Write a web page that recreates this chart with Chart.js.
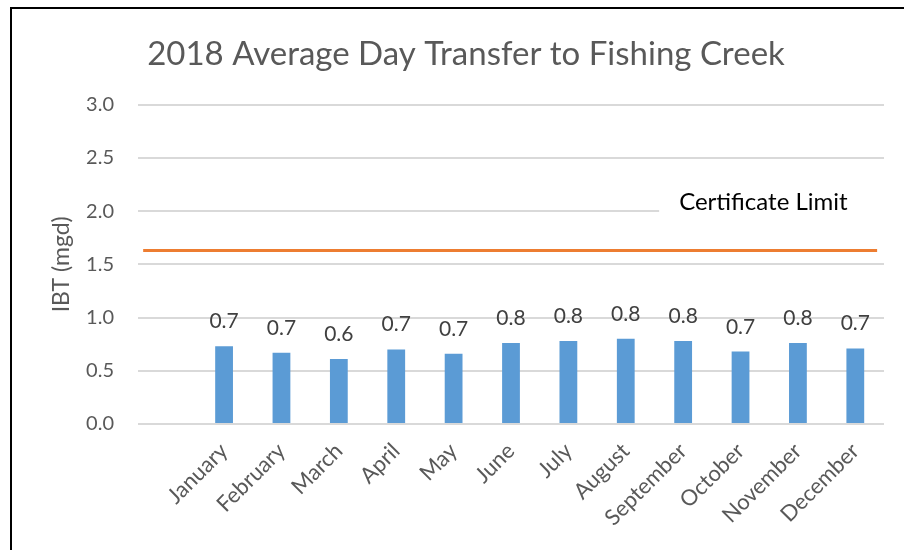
<!DOCTYPE html>
<html lang="en">
<head>
    <meta charset="UTF-8">
    <title>2018 Average Day Transfer to Fishing Creek</title>
    <style>
        body {
            margin: 0;
            background: #fff;
            overflow: hidden;
        }

        .wrap {
            position: relative;
            width: 904px;
            height: 550px;
        }

        /* black frame round the chart, cut off on the right and bottom */
        .frame {
            position: absolute;
            left: 10px;
            top: 7px;
            width: 1000px;
            height: 1000px;
            border-left: 2px solid #000;
            border-top: 2px solid #000;
            pointer-events: none;
        }
    </style>
</head>
<body>
    <div class="wrap">
        <canvas id="ibtChart"></canvas>
        <div class="frame"></div>
    </div>

    <script src="https://cdn.jsdelivr.net/npm/chart.js"></script>
    <script>
        // first category is left empty, like in the original sheet
        const months = ['', 'January', 'February', 'March', 'April', 'May', 'June',
            'July', 'August', 'September', 'October', 'November', 'December'];
        const avgDay = [null, 0.73, 0.67, 0.61, 0.70, 0.66, 0.76, 0.78, 0.80, 0.78, 0.68, 0.76, 0.71];

        const certLimit = 1.63;
        const limitSpan = [0.09, 12.88];   // start / end of the limit line, in category units
        const limitLabel = 'Certificate Limit';
        const limitLabelAt = [9.43, 2.08];  // x (category units), y (mgd)

        const yMin = 0;
        const yMax = 3;
        const yStep = 0.5;

        const textGrey = '#595959';

        // value labels above the bars + the "Certificate Limit" text box
        const labelPlugin = {
            id: 'labels',
            afterDatasetsDraw(chart) {
                const ctx = chart.ctx;
                const meta = chart.getDatasetMeta(0);
                ctx.save();
                ctx.font = '21px Lato';
                ctx.fillStyle = '#404040';
                ctx.textAlign = 'center';
                ctx.textBaseline = 'alphabetic';
                meta.data.forEach((bar, i) => {
                    if (avgDay[i] == null) return;
                    ctx.fillText(avgDay[i].toFixed(1), bar.x, bar.y - 18);
                });

                const x = chart.scales.x2.getPixelForValue(limitLabelAt[0]);
                const y = chart.scales.y.getPixelForValue(limitLabelAt[1]);
                ctx.fillStyle = '#fff';
                ctx.fillRect(x - 20, y - 18, chart.chartArea.right - x + 30, 36);
                ctx.font = '24px Lato';
                ctx.fillStyle = '#000';
                ctx.textAlign = 'left';
                ctx.textBaseline = 'middle';
                ctx.fillText(limitLabel, x, y);
                ctx.restore();
            }
        };

        const ctx = document.getElementById('ibtChart').getContext('2d');
        new Chart(ctx, {
            data: {
                labels: months,
                datasets: [{
                    type: 'bar',
                    data: avgDay,
                    backgroundColor: '#5B9BD5',
                    borderWidth: 0,
                    grouped: false,
                    categoryPercentage: 1,
                    barPercentage: 0.31,
                    order: 2
                }, {
                    type: 'line',
                    xAxisID: 'x2',
                    data: limitSpan.map(v => ({ x: v, y: certLimit })),
                    borderColor: '#ED7D31',
                    borderWidth: 3,
                    pointRadius: 0,
                    order: 1
                }]
            },
            options: {
                responsive: true,
                maintainAspectRatio: false,
                animation: false,
                layout: {
                    padding: { left: 48, right: 20, top: 0, bottom: 0 }
                },
                plugins: {
                    legend: { display: false },
                    tooltip: { enabled: false },
                    title: {
                        display: true,
                        text: '2018 Average Day Transfer to Fishing Creek',
                        color: textGrey,
                        font: { family: 'Lato', size: 33, weight: 'normal' },
                        padding: { top: 35, bottom: 30 }
                    }
                },
                scales: {
                    x: {
                        type: 'category',
                        offset: true,
                        grid: { display: false, drawTicks: false },
                        border: { display: false },
                        ticks: {
                            color: textGrey,
                            font: { family: 'Lato', size: 22 },
                            minRotation: 45,
                            maxRotation: 45,
                            autoSkip: false,
                            padding: 14
                        },
                        afterFit(scale) { scale.height = 126; }
                    },
                    x2: {
                        type: 'linear',
                        display: false,
                        min: 0,
                        max: months.length
                    },
                    y: {
                        min: yMin,
                        max: yMax,
                        grid: { color: '#D9D9D9', lineWidth: 2, drawTicks: false },
                        border: { display: false },
                        ticks: {
                            stepSize: yStep,
                            color: textGrey,
                            font: { family: 'Lato', size: 20 },
                            padding: 24,
                            callback: v => v.toFixed(1)
                        },
                        title: {
                            display: true,
                            text: 'IBT (mgd)',
                            color: textGrey,
                            font: { family: 'Lato', size: 23 },
                            padding: { top: 0 }
                        },
                        afterFit(scale) { scale.width = 90; }
                    }
                }
            },
            plugins: [labelPlugin]
        });
    </script>
</body>
</html>
